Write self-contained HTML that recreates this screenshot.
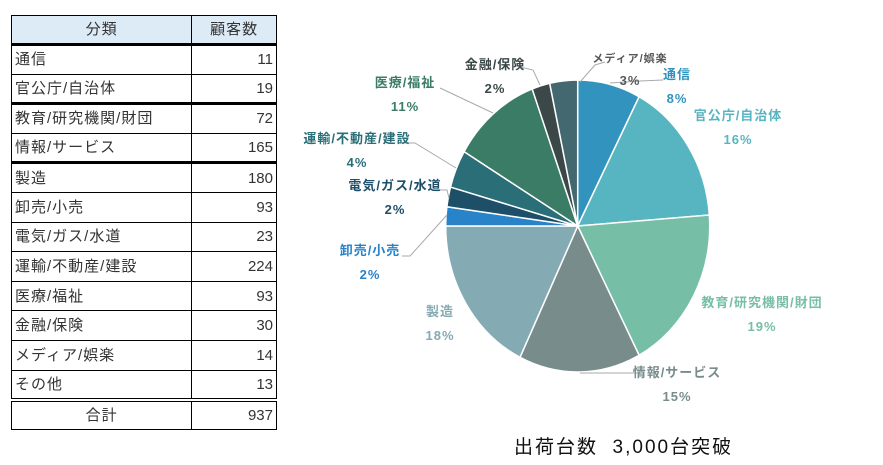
<!DOCTYPE html>
<html><head><meta charset="utf-8"><style>
body{margin:0;width:883px;height:465px;background:#fff;font-family:"Liberation Sans","Noto Sans CJK JP",sans-serif;position:relative;overflow:hidden}
table{position:absolute;left:11px;top:15px;border-collapse:collapse;width:266px;font-size:15px;color:#333;letter-spacing:1px}
td{border:1px solid #000;height:29.6px;padding:0 3px;box-sizing:border-box;line-height:1}
td.n{text-align:right;letter-spacing:0}
tr.h td{background:#ddebf7;text-align:center;height:29px}
tr.tk td{border-bottom:3px solid #000}
tr.dbl td{border-bottom:4px double #000}
svg{position:absolute;left:0;top:0}
.t{font-weight:bold;font-size:13px;text-anchor:middle;letter-spacing:1px;font-family:"Liberation Sans","Noto Sans CJK JP",sans-serif}
</style></head><body>
<table>
<colgroup><col style="width:181px"><col style="width:85px"></colgroup>
<tr class="h tk"><td>分類</td><td>顧客数</td></tr>
<tr><td>通信</td><td class="n">11</td></tr>
<tr class="tk"><td>官公庁/自治体</td><td class="n">19</td></tr>
<tr><td>教育/研究機関/財団</td><td class="n">72</td></tr>
<tr class="tk"><td>情報/サービス</td><td class="n">165</td></tr>
<tr><td>製造</td><td class="n">180</td></tr>
<tr><td>卸売/小売</td><td class="n">93</td></tr>
<tr><td>電気/ガス/水道</td><td class="n">23</td></tr>
<tr><td>運輸/不動産/建設</td><td class="n">224</td></tr>
<tr><td>医療/福祉</td><td class="n">93</td></tr>
<tr><td>金融/保険</td><td class="n">30</td></tr>
<tr><td>メディア/娯楽</td><td class="n">14</td></tr>
<tr class="dbl"><td>その他</td><td class="n">13</td></tr>
<tr><td style="text-align:center">合計</td><td class="n">937</td></tr>
</table>
<svg width="883" height="465" id="s">
<g id="pie"></g>
<g stroke="#aaa" stroke-width="1" fill="none">
<polyline points="540,85 533,70 520,67"/>
<polyline points="580,82 595,65 605,62"/>
<polyline points="493,113 440,88"/>
<polyline points="456,168 415,143 405,143"/>
<polyline points="449,198 447,190 440,190"/>
<polyline points="447,215 410,256 402,256"/>
<polyline points="580,373 640,373"/>
<polyline points="610,83 640,81 663,80"/>
</g>
<text class="t" x="630" y="62" fill="#595959" style="font-size:11px">メディア/娯楽</text>
<text class="t" x="630" y="85" fill="#595959">3%</text>
<text class="t" x="677" y="79" fill="#3294be">通信</text>
<text class="t" x="677" y="103" fill="#3294be">8%</text>
<text class="t" x="738" y="120" fill="#57b5c1">官公庁/自治体</text>
<text class="t" x="738" y="144" fill="#57b5c1">16%</text>
<text class="t" x="762" y="307" fill="#76bea6">教育/研究機関/財団</text>
<text class="t" x="762" y="331" fill="#76bea6">19%</text>
<text class="t" x="677" y="377" fill="#798c8c">情報/サービス</text>
<text class="t" x="677" y="401" fill="#798c8c">15%</text>
<text class="t" x="440" y="316" fill="#84abb4">製造</text>
<text class="t" x="440" y="340" fill="#84abb4">18%</text>
<text class="t" x="370" y="255" fill="#2883c8">卸売/小売</text>
<text class="t" x="370" y="279" fill="#2883c8">2%</text>
<text class="t" x="395" y="190" fill="#1d5068">電気/ガス/水道</text>
<text class="t" x="395" y="214" fill="#1d5068">2%</text>
<text class="t" x="357" y="143" fill="#2a6e78">運輸/不動産/建設</text>
<text class="t" x="357" y="167" fill="#2a6e78">4%</text>
<text class="t" x="405" y="87" fill="#3b7c66">医療/福祉</text>
<text class="t" x="405" y="111" fill="#3b7c66">11%</text>
<text class="t" x="495" y="69" fill="#3c4848">金融/保険</text>
<text class="t" x="495" y="93" fill="#3c4848">2%</text>
<text x="514" y="453" font-size="19" fill="#111" xml:space="preserve" style="white-space:pre;letter-spacing:2px;font-family:'Liberation Sans','Noto Sans CJK JP',sans-serif">出荷台数  3,000台突破</text>
</svg>
<script>
var cx=577.7,cy=226,rx=132,ry=146;
var b=[0,7.7,23.8,42.3,57.2,75,77.1,79.3,83.5,94.4,96.6,100];
var c=["#3294be","#57b5c1","#76bea6","#798c8c","#84abb4","#2883c8","#1d5068","#2a6e78","#3b7c66","#3c4848","#43686f"];
function p(v){var a=v/100*2*Math.PI;return [cx+rx*Math.sin(a),cy-ry*Math.cos(a)];}
var h="";
for(var i=0;i<11;i++){var s=p(b[i]),e=p(b[i+1]),l=(b[i+1]-b[i])>50?1:0;
h+='<path d="M'+cx+','+cy+' L'+s[0]+','+s[1]+' A'+rx+','+ry+' 0 '+l+' 1 '+e[0]+','+e[1]+' Z" fill="'+c[i]+'" stroke="#fff" stroke-width="1.5"/>';}
document.getElementById("pie").innerHTML=h;
</script>
</body></html>
